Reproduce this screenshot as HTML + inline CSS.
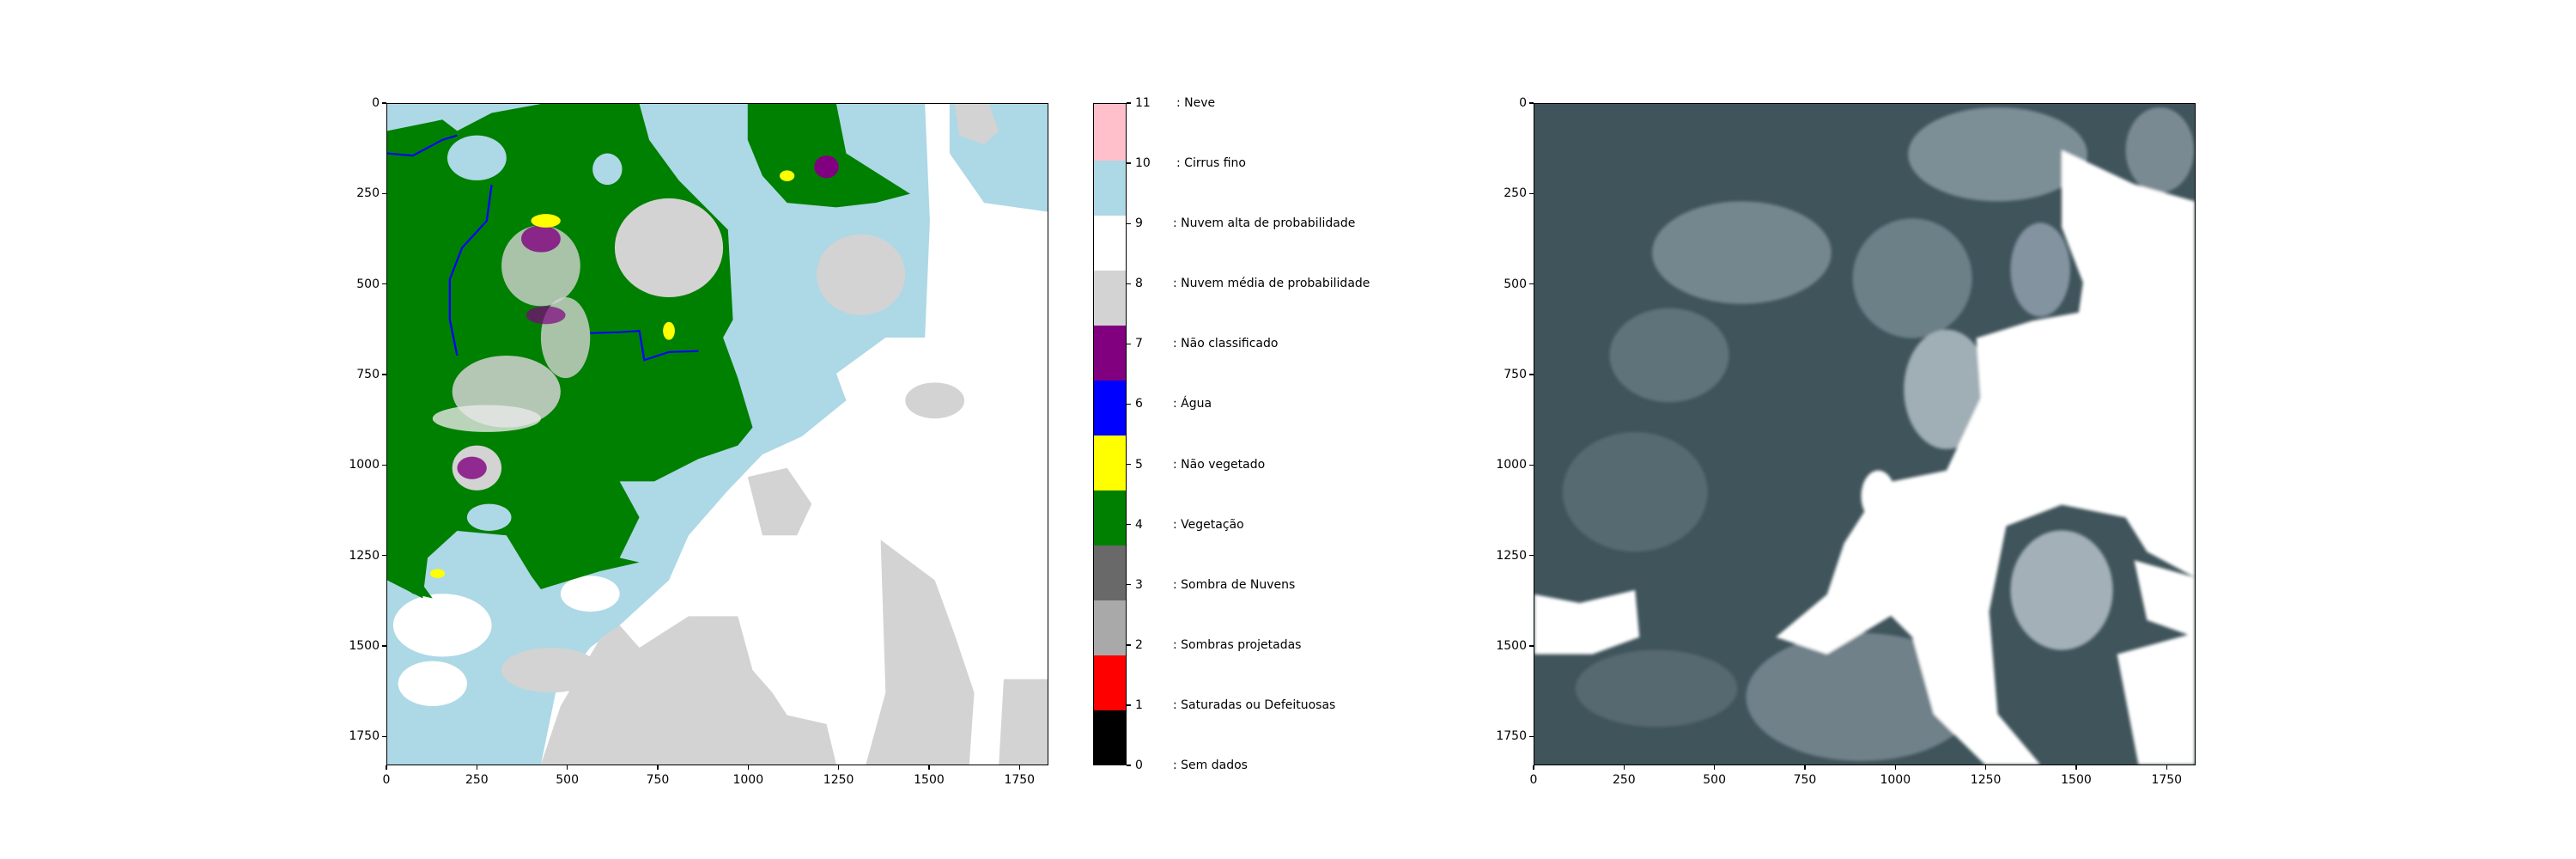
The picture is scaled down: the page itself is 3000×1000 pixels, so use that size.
<!DOCTYPE html>
<html><head><meta charset="utf-8">
<style>
html,body{margin:0;padding:0;width:3000px;height:1000px;overflow:hidden;background:#fff;}
#fig{position:relative;width:3000px;height:1000px;overflow:hidden;background:#fff;font-family:"DejaVu Sans","Liberation Sans",sans-serif;font-size:14px;color:#000;}
.ax{position:absolute;box-sizing:border-box;border:1.3px solid #000;overflow:hidden;}
.ax svg{position:absolute;left:0;top:0;width:100%;height:100%;display:block;overflow:hidden;}
.tk{position:absolute;background:#000;}
.tl{position:absolute;white-space:nowrap;line-height:14px;}
</style></head><body>
<div id="fig">
 <div class="ax" id="ax1" style="left:450px;top:120px;width:771px;height:771px;">
  <svg viewBox="88 40 1341 1470" preserveAspectRatio="none">
   <rect x="88" y="40" width="1341" height="1470" fill="#fff"/>
   <polygon fill="#add8e6" points="88,40 1180,40 1190,300 1180,560 1100,560 1000,640 1020,700 930,780 850,820 780,900 700,1000 660,1100 560,1200 500,1250 430,1350 400,1510 88,1510"/>
   <polygon fill="#add8e6" points="1230,40 1429,40 1429,280 1300,260 1230,150"/>
   <polygon fill="#d3d3d3" points="400,1510 440,1380 520,1230 560,1200 600,1250 700,1180 800,1180 830,1300 870,1350 900,1400 980,1420 1000,1510"/>
   <polygon fill="#d3d3d3" points="1060,1510 1100,1350 1090,1010 1200,1100 1240,1220 1280,1350 1270,1510"/>
   <polygon fill="#d3d3d3" points="1340,1320 1429,1320 1429,1510 1330,1510"/>
   <polygon fill="#d3d3d3" points="820,870 900,850 950,930 920,1000 850,1000"/>
   <polygon fill="#d3d3d3" points="1240,40 1310,40 1330,100 1300,130 1250,110"/>
   <ellipse fill="#d3d3d3" cx="1050" cy="420" rx="90" ry="90"/>
   <ellipse fill="#d3d3d3" cx="420" cy="1300" rx="100" ry="50"/>
   <ellipse fill="#d3d3d3" cx="1200" cy="700" rx="60" ry="40"/>
   <ellipse fill="#fff" cx="200" cy="1200" rx="100" ry="70"/>
   <ellipse fill="#fff" cx="180" cy="1330" rx="70" ry="50"/>
   <ellipse fill="#fff" cx="500" cy="1130" rx="60" ry="40"/>
   <polygon fill="#008000" points="88,100 200,75 230,100 300,60 400,40 600,40 620,120 680,210 780,320 790,520 770,560 800,650 830,760 800,800 720,830 630,880 560,880 600,960 560,1050 600,1060 520,1080 400,1120 380,1090 330,1000 230,990 170,1050 160,1140 88,1100"/>
   <polygon fill="#008000" points="820,40 1000,40 1020,150 1150,240 1080,260 1000,270 900,260 850,200 820,120"/>
   <polygon fill="#008000" points="88,1040 140,1080 180,1140 140,1130 88,1090"/>
   <ellipse fill="#add8e6" cx="270" cy="160" rx="60" ry="50"/>
   <ellipse fill="#add8e6" cx="535" cy="185" rx="30" ry="35"/>
   <ellipse fill="#add8e6" cx="295" cy="960" rx="45" ry="30"/>
   <ellipse fill="#d3d3d3" cx="660" cy="360" rx="110" ry="110"/>
   <ellipse fill="#d3d3d3" cx="400" cy="400" rx="80" ry="90" opacity="0.8"/>
   <ellipse fill="#d3d3d3" cx="330" cy="680" rx="110" ry="80" opacity="0.85"/>
   <ellipse fill="#d3d3d3" cx="450" cy="560" rx="50" ry="90" opacity="0.8"/>
   <ellipse fill="#e8e8e8" cx="290" cy="740" rx="110" ry="30" opacity="0.8"/>
   <ellipse fill="#d3d3d3" cx="270" cy="850" rx="50" ry="50"/>
   <ellipse fill="#800080" cx="400" cy="340" rx="40" ry="30" opacity="0.8"/>
   <ellipse fill="#800080" cx="260" cy="850" rx="30" ry="25" opacity="0.8"/>
   <ellipse fill="#800080" cx="980" cy="180" rx="25" ry="25"/>
   <ellipse fill="#800080" cx="410" cy="510" rx="40" ry="20" opacity="0.7"/>
   <ellipse fill="#ffff00" cx="410" cy="300" rx="30" ry="15"/>
   <ellipse fill="#ffff00" cx="660" cy="545" rx="12" ry="20"/>
   <ellipse fill="#ffff00" cx="900" cy="200" rx="15" ry="12"/>
   <ellipse fill="#ffff00" cx="190" cy="1085" rx="15" ry="10"/>
   <polyline fill="none" stroke="#0000ff" stroke-width="4" points="88,150 140,155 200,120 230,110"/>
   <polyline fill="none" stroke="#0000ff" stroke-width="4" points="300,220 290,300 240,360 215,430 215,520 230,600"/>
   <polyline fill="none" stroke="#0000ff" stroke-width="4" points="500,550 560,548 600,545 610,610 660,592 720,590"/>
  </svg>
 </div>
 <div id="cbar" style="position:absolute;left:1273px;top:120px;width:39px;height:771px;border:1.3px solid #000;box-sizing:border-box;overflow:hidden;"></div>
 <div class="ax" id="ax2" style="left:1786px;top:120px;width:771px;height:771px;">
  <svg viewBox="14 12 1548 1546" preserveAspectRatio="none">
   <defs><filter id="bl" x="0" y="0" width="100%" height="100%" filterUnits="userSpaceOnUse"><feGaussianBlur stdDeviation="14"/></filter>
   <filter id="bl2" x="14" y="12" width="1548" height="1546" filterUnits="userSpaceOnUse"><feGaussianBlur stdDeviation="4"/></filter></defs>
   <rect x="14" y="12" width="1548" height="1546" fill="#3f545b"/>
   <g filter="url(#bl2)">
    <ellipse fill="#74878e" cx="500" cy="360" rx="210" ry="120"/>
    <ellipse fill="#7d8f96" cx="1100" cy="130" rx="210" ry="110"/>
    <ellipse fill="#6c8088" cx="900" cy="420" rx="140" ry="140"/>
    <ellipse fill="#5f737a" cx="330" cy="600" rx="140" ry="110"/>
    <ellipse fill="#566a72" cx="250" cy="920" rx="170" ry="140"/>
    <ellipse fill="#6f818a" cx="780" cy="1400" rx="270" ry="150"/>
    <ellipse fill="#a3b0b7" cx="1250" cy="1150" rx="120" ry="140"/>
    <ellipse fill="#7a8a92" cx="1480" cy="120" rx="80" ry="100"/>
    <ellipse fill="#56696f" cx="300" cy="1380" rx="190" ry="90"/>
    <ellipse fill="#a0aeb5" cx="980" cy="680" rx="100" ry="140"/>
    <ellipse fill="#8393a0" cx="1200" cy="400" rx="70" ry="110"/>
    <polygon fill="#fff" points="1250,120 1420,200 1562,240 1562,1120 1450,1060 1400,980 1250,950 1120,1000 1080,1200 1100,1440 1200,1558 1070,1558 950,1440 900,1260 850,1210 700,1300 580,1260 700,1160 740,1040 830,900 980,870 1060,700 1050,560 1180,520 1290,500 1300,430 1250,300"/>
    <polygon fill="#fff" points="1380,1300 1562,1250 1562,1558 1430,1558"/>
    <polygon fill="#fff" points="1420,1080 1562,1120 1562,1260 1450,1220"/>
    <polygon fill="#fff" points="14,1160 120,1180 250,1150 260,1260 150,1300 14,1300"/>
    <ellipse fill="#fff" cx="820" cy="930" rx="40" ry="60"/>
   </g>
  </svg>
 </div>
</div>
<script>
const xTicks=[0,250,500,750,1000,1250,1500,1750];
const yTicks=[0,250,500,750,1000,1250,1500,1750];
const imgSize=1830;
const cbColors=["#000000","#ff0000","#a9a9a9","#696969","#008000","#ffff00","#0000ff","#800080","#d3d3d3","#ffffff","#add8e6","#ffc0cb"];
const cbTicks=[0,1,2,3,4,5,6,7,8,9,10,11];
const cbLabels=[": Sem dados",": Saturadas ou Defeituosas",": Sombras projetadas",": Sombra de Nuvens",": Vegetação",": Não vegetado",": Água",": Não classificado",": Nuvem média de probabilidade",": Nuvem alta de probabilidade",": Cirrus fino",": Neve"];
const fig=document.getElementById('fig');
function add(cls,css,txt){const d=document.createElement('div');d.className=cls;d.style.cssText=css;if(txt!==undefined)d.textContent=txt;fig.appendChild(d);return d;}
function axes(L,T,S,pre){
 const sx=v=>L+v/imgSize*S, sy=v=>T+v/imgSize*S;
 xTicks.forEach(v=>{
  const t=add('tk',`left:${sx(v)-0.6}px;top:${T+S}px;width:1.3px;height:5px;`);
  
  
  const l=add('tl',`left:${sx(v)-40}px;top:${T+S+10}px;width:80px;text-align:center;`,String(v));
  
  
 });
 yTicks.forEach(v=>{
  const t=add('tk',`left:${L-5}px;top:${sy(v)-0.6}px;width:5px;height:1.3px;`);
  
  
  const l=add('tl',`left:${L-90}px;top:${sy(v)-7}px;width:82px;text-align:right;`,String(v));
  
  
 });
}
axes(450,120,771,'left-');
axes(1786,120,771,'right-');
const cb=document.getElementById('cbar');
const n=cbColors.length, H=771, T=120;
cbColors.forEach((c,i)=>{
 const d=document.createElement('div');
 d.style.cssText=`position:absolute;left:0;right:0;top:${(n-1-i)/n*100}%;height:${100/n+0.2}%;background:${c};`;
 
 
 cb.appendChild(d);
});
cbTicks.forEach((v,i)=>{
 const y=T+H-v/(cbTicks.length-1)*H;
 const t=add('tk',`left:1312px;top:${y-0.6}px;width:5px;height:1.3px;`);
 
 
 const l=add('tl',`left:1322px;top:${y-7}px;`,String(v));
 
 
 const s=add('tl',`left:${v>=10?1370:1366}px;top:${y-7}px;`,cbLabels[i]);
 
 
});
</script>
</body></html>
